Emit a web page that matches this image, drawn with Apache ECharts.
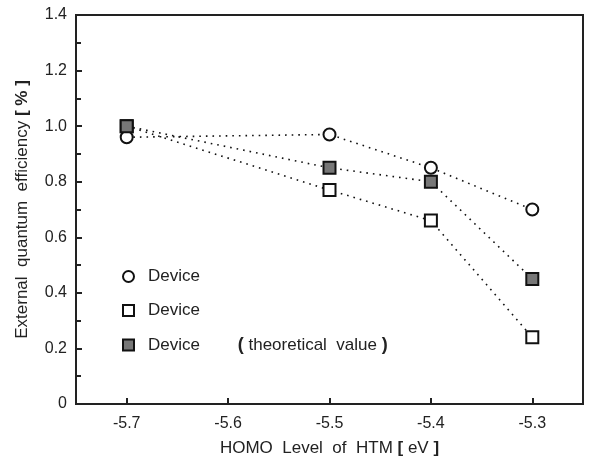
<!DOCTYPE html>
<html><head><meta charset="utf-8">
<script src="https://cdn.jsdelivr.net/npm/echarts@6/dist/echarts.min.js"></script>
<style>html,body{margin:0;padding:0;background:#fff}#c{width:596px;height:458px}</style>
</head><body><div id="c"></div>
<script>
const homo = [-5.7, -5.5, -5.4, -5.3];
const deviceCircle = [0.96, 0.97, 0.85, 0.70];
const deviceSquare = [1.00, 0.77, 0.66, 0.24];
const deviceTheory = [1.00, 0.85, 0.80, 0.45];
const xTicks = [-5.7, -5.6, -5.5, -5.4, -5.3];
const legendNames = {A: 'Device', B: 'Device', C: 'Device        {b|(} theoretical  value {b|)}'};
const xName = 'HOMO  Level  of  HTM {b|[} eV {b|]}';
const yName = 'External  quantum  efficiency {b|[ % ]}';

const pair = arr => homo.map((x, i) => [x, arr[i]]);
const font = 'Liberation Sans, Arial, sans-serif';
const txt = '#222';
const rich = {b: {fontFamily: font, fontSize: 17, fontWeight: 'bold', color: txt}};
const chart = echarts.init(document.getElementById('c'));
const mk = (name, data, symbol, fill) => ({
  name, type: 'line', data: pair(data), symbol, symbolSize: 12,
  lineStyle: {color: '#111', width: 1.6, type: [1.6, 5]},
  itemStyle: {color: fill, borderColor: '#111', borderWidth: 2},
  z: 3
});
chart.setOption({
  animation: false,
  grid: {left: 76, right: 13, top: 15, bottom: 54, outerBoundsMode: 'none', containLabel: false, show: true, borderColor: '#222', borderWidth: 2, backgroundColor: 'transparent'},
  xAxis: {
    type: 'value', min: -5.75, max: -5.25,
    name: xName, nameLocation: 'middle', nameGap: 36,
    nameTextStyle: {fontFamily: font, fontSize: 17, color: txt, rich},
    axisLine: {lineStyle: {color: '#222', width: 2}},
    axisTick: {inside: true, length: 6, lineStyle: {color: '#222', width: 2}, customValues: xTicks},
    axisLabel: {fontFamily: font, fontSize: 16, color: txt, margin: 12, customValues: xTicks, formatter: v => v.toFixed(1)},
    splitLine: {show: false}
  },
  yAxis: {
    type: 'value', min: 0, max: 1.4, interval: 0.2,
    name: yName, nameLocation: 'middle', nameGap: 45, nameRotate: 90,
    nameTextStyle: {fontFamily: font, fontSize: 17, color: txt, rich},
    axisLine: {lineStyle: {color: '#222', width: 2}},
    axisTick: {inside: true, length: 6, lineStyle: {color: '#222', width: 2}},
    minorTick: {show: true, splitNumber: 2, length: 5, lineStyle: {color: '#222', width: 2}},
    axisLabel: {fontFamily: font, fontSize: 16, color: txt, margin: 9, formatter: v => v === 0 ? '0' : v.toFixed(1)},
    splitLine: {show: false}
  },
  legend: {
    orient: 'vertical', left: 117, top: 263, itemGap: 17,
    itemWidth: 11, itemHeight: 11,
    data: [{name: 'A', icon: 'circle'}, {name: 'B', icon: 'rect'}, {name: 'C', icon: 'rect'}],
    formatter: n => legendNames[n],
    textStyle: {fontFamily: font, fontSize: 17, color: txt, padding: [0, 0, 0, 9], rich: {b: {fontFamily: font, fontSize: 18, fontWeight: 'bold', color: txt}}}
  },
  series: [
    mk('B', deviceSquare, 'rect', '#fff'),
    mk('A', deviceCircle, 'circle', '#fff'),
    mk('C', deviceTheory, 'rect', '#777')
  ]
});
</script></body></html>
